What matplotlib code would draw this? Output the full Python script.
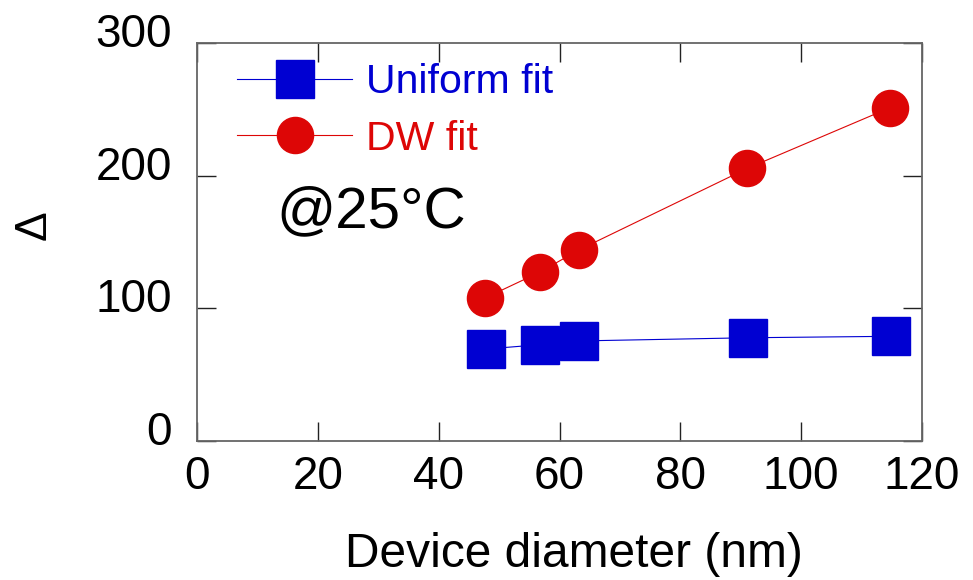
import matplotlib
matplotlib.use("Agg")
import matplotlib.pyplot as plt
from matplotlib.transforms import ScaledTranslation

plt.rcParams["font.family"] = ["Liberation Sans", "DejaVu Sans"]

# data
diameter_uniform = [47.8, 56.8, 63.3, 91.2, 114.9]
delta_uniform = [69.3, 72.6, 75.4, 77.8, 78.9]
diameter_dw = [47.6, 56.8, 63.2, 91.1, 114.7]
delta_dw = [107.6, 127.4, 144.0, 205.5, 251.2]

x_ticks = [0, 20, 40, 60, 80, 100, 120]
y_ticks = [0, 100, 200, 300]

BLUE = "#0000d2"
RED = "#dd0606"

fig = plt.figure(figsize=(9.73, 5.80), dpi=100)
ax = fig.add_axes([0.2025, 0.2397, 0.7451, 0.6862])

ax.plot(diameter_uniform, delta_uniform, color=BLUE, lw=0.8, marker="s",
        ms=27, mec=BLUE, mfc=BLUE, label="Uniform fit")
ax.plot(diameter_dw, delta_dw, color=RED, lw=0.8, marker="o",
        ms=26, mec=RED, mfc=RED, label="DW fit")

ax.set_xlim(0, 120)
ax.set_ylim(0, 300)
ax.set_xticks(x_ticks)
ax.set_yticks(y_ticks)
ax.tick_params(direction="in", length=14, width=1.0, labelsize=33,
               top=True, right=True, color="#222222")
ax.tick_params(axis="x", pad=10)
ax.tick_params(axis="y", pad=18)
for sp in ax.spines.values():
    sp.set_color("#666666")
    sp.set_linewidth(1.3)

# y tick labels sit a little above their ticks in the reference
lift = ScaledTranslation(0, 0.13, fig.dpi_scale_trans)
for lab in ax.get_yticklabels():
    lab.set_transform(lab.get_transform() + lift)

fig.text(574 / 973, 1 - 567 / 580, "Device diameter (nm)", fontsize=34.5,
         ha="center", va="baseline")
fig.text(34 / 973, 1 - 225 / 580, "\u0394", fontsize=32, rotation=90,
         ha="center", va="center")

ax.text(0.11, 0.575, "@25\u00b0C", transform=ax.transAxes, fontsize=42,
        color="black", va="center", ha="left")

leg = ax.legend(loc="upper left", bbox_to_anchor=(0.033, 0.99), frameon=False,
                fontsize=29.5, handlelength=2.8, handletextpad=0.35,
                labelspacing=0.45, labelcolor="linecolor", borderaxespad=0.0)

fig.savefig("out.png", dpi=100)
